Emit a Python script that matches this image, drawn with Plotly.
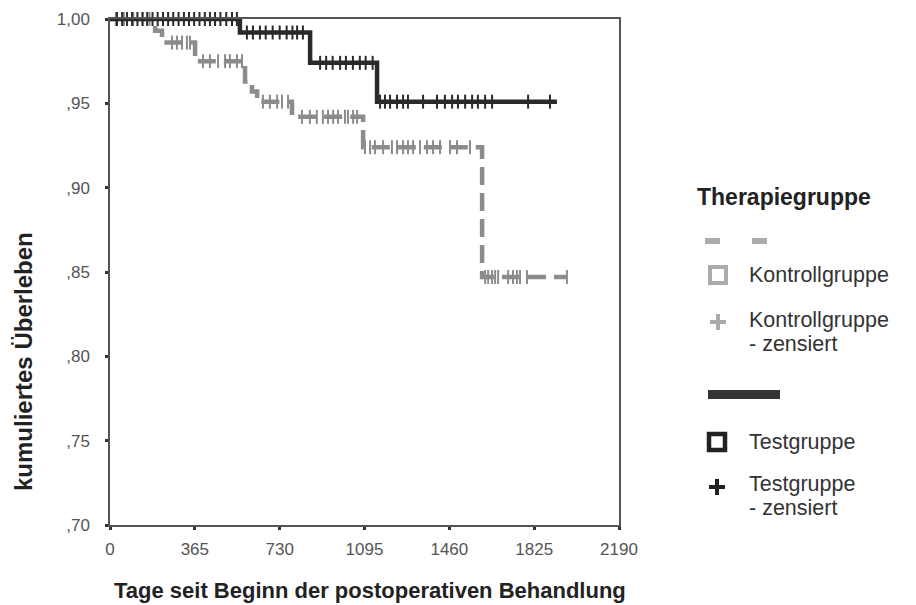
import plotly.graph_objects as go

# ---------------- data ----------------
test_event_days = [559, 861, 1149]
test_survival = [0.992, 0.974, 0.951]
test_last_day = 1923
test_censored_days = [30, 52, 73, 95, 118, 140, 160, 183, 205, 228, 250, 272, 295, 318, 340,
                      362, 385, 408, 430, 452, 475, 500, 525, 546,
                      589, 615, 645, 670, 700, 730, 760, 785, 805, 830,
                      904, 930, 958, 990, 1015, 1045, 1075, 1100, 1130,
                      1162, 1183, 1205, 1235, 1261, 1282, 1347, 1407, 1441, 1472, 1497,
                      1528, 1558, 1583, 1614, 1644, 1799, 1893]

control_event_days = [194, 224, 366, 581, 611, 633, 783, 1089, 1601]
control_survival = [0.993, 0.986, 0.975, 0.963, 0.957, 0.951, 0.942, 0.924, 0.847]
control_last_day = 1966
control_censored_days = [25, 60, 100, 140, 170,
                         267, 288, 310, 331, 344,
                         400, 430, 465, 495, 516, 546, 568,
                         658, 688, 719, 740, 766,
                         826, 860, 890, 916, 938, 960, 981, 1011, 1024, 1046, 1063,
                         1097, 1119, 1140, 1175, 1213, 1235, 1261, 1282, 1304, 1334, 1364,
                         1390, 1420, 1463, 1493, 1549,
                         1614, 1627, 1644, 1657, 1670, 1713, 1734, 1751, 1764, 1794, 1966]

x_tick_values = [0, 365, 730, 1095, 1460, 1825, 2190]
y_tick_values = [0.70, 0.75, 0.80, 0.85, 0.90, 0.95, 1.00]
y_tick_labels = [",70", ",75", ",80", ",85", ",90", ",95", "1,00"]

DARK = "#2a2a2a"
GRAY = "#8c8c8c"


def km_path(event_days, survival, last_day):
    xs = [0] + list(event_days) + [last_day]
    ys = [1.0] + list(survival) + [survival[-1]]
    return xs, ys


def surv_at(t, event_days, survival):
    s = 1.0
    for d, v in zip(event_days, survival):
        if d <= t:
            s = v
    return s


fig = go.Figure()

cx, cy = km_path(control_event_days, control_survival, control_last_day)
fig.add_trace(go.Scatter(x=cx, y=cy, mode="lines", line_shape="hv",
                         line=dict(color=GRAY, width=4.5, dash="18px,8px"),
                         cliponaxis=False, showlegend=False, hoverinfo="skip"))
fig.add_trace(go.Scatter(x=control_censored_days,
                         y=[surv_at(t, control_event_days, control_survival) for t in control_censored_days],
                         mode="markers",
                         marker=dict(symbol="line-ns", size=10, line=dict(color=GRAY, width=2)),
                         cliponaxis=False, showlegend=False, hoverinfo="skip"))

tx, ty = km_path(test_event_days, test_survival, test_last_day)
fig.add_trace(go.Scatter(x=tx, y=ty, mode="lines", line_shape="hv",
                         line=dict(color=DARK, width=4.5),
                         cliponaxis=False, showlegend=False, hoverinfo="skip"))
fig.add_trace(go.Scatter(x=test_censored_days,
                         y=[surv_at(t, test_event_days, test_survival) for t in test_censored_days],
                         mode="markers",
                         marker=dict(symbol="line-ns", size=10, line=dict(color=DARK, width=2)),
                         cliponaxis=False, showlegend=False, hoverinfo="skip"))

# ---------------- layout ----------------
W, H = 916, 605
L, R, T, B = 110, 619, 19, 525          # plot area in pixels


def px(x):
    return (x - L) / (R - L)


def py(y):
    return (B - y) / (B - T)


fig.update_layout(
    width=W, height=H,
    margin=dict(l=L, r=W - R, t=T, b=H - B, autoexpand=False),
    paper_bgcolor="white", plot_bgcolor="white",
    font=dict(family="Liberation Sans, Arial, sans-serif", color="#333"),
    showlegend=False,
)
fig.update_xaxes(range=[0, 2190], tickvals=x_tick_values, ticktext=[str(v) for v in x_tick_values],
                 showgrid=False, zeroline=False, showline=True, linecolor="#555", linewidth=1.5,
                 mirror=True, ticks="outside", ticklen=3, tickwidth=3, tickcolor="#333",
                 tickfont=dict(size=17, color="#555"), ticklabelstandoff=5)
fig.update_yaxes(range=[0.70, 1.00], tickvals=y_tick_values, ticktext=y_tick_labels,
                 showgrid=False, zeroline=False, showline=True, linecolor="#555", linewidth=1.5,
                 mirror=True, ticks="outside", ticklen=3, tickwidth=3, tickcolor="#333",
                 tickfont=dict(size=17, color="#555"), ticklabelstandoff=12)

ann = []
ann.append(dict(text="<b>kumuliertes Überleben</b>", x=px(23), y=py(362), xref="paper", yref="paper",
                xanchor="center", yanchor="middle",
                textangle=-90, showarrow=False, font=dict(size=24, color="#222")))
ann.append(dict(text="<b>Tage seit Beginn der postoperativen Behandlung</b>", x=px(370), y=py(590),
                xref="paper", yref="paper", xanchor="center", yanchor="middle",
                showarrow=False, font=dict(size=22, color="#222")))
ann.append(dict(text="<b>Therapiegruppe</b>", x=px(695), y=py(197), xref="paper", yref="paper",
                xanchor="left", yanchor="middle", showarrow=False, font=dict(size=23, color="#222")))
for txt, yy in [("Kontrollgruppe", 275), ("Kontrollgruppe", 320), ("- zensiert", 344),
                ("Testgruppe", 442), ("Testgruppe", 484), ("- zensiert", 508)]:
    ann.append(dict(text=txt, x=px(747), y=py(yy), xref="paper", yref="paper", xanchor="left",
                    yanchor="middle", showarrow=False, font=dict(size=21.5, color="#333")))
fig.update_layout(annotations=ann)

LG = "#ababab"
shapes = []


def rect(x0, y0, x1, y1, color, line=None):
    d = dict(type="rect", xref="paper", yref="paper", x0=px(x0), x1=px(x1), y0=py(y1), y1=py(y0))
    if line is None:
        d.update(fillcolor=color, line=dict(width=0))
    else:
        d.update(fillcolor="rgba(0,0,0,0)", line=dict(color=color, width=line))
    shapes.append(d)


# control legend glyphs
rect(705, 238, 720, 244, LG)
rect(752, 238, 767, 244, LG)
rect(710, 267, 726, 283, LG, line=4)
rect(710, 320, 726, 324, LG)
rect(716, 314, 720, 330, LG)
# test legend glyphs
rect(708, 390, 780, 399, "#333")
rect(709, 434, 725, 450, "#222", line=4.5)
rect(709, 485, 725, 489, "#222")
rect(715, 479, 719, 495, "#222")
fig.update_layout(shapes=shapes)

fig.write_html("out.html", config={"displayModeBar": False},
               post_script="document.body.style.margin='0';document.body.style.overflow='hidden';")
